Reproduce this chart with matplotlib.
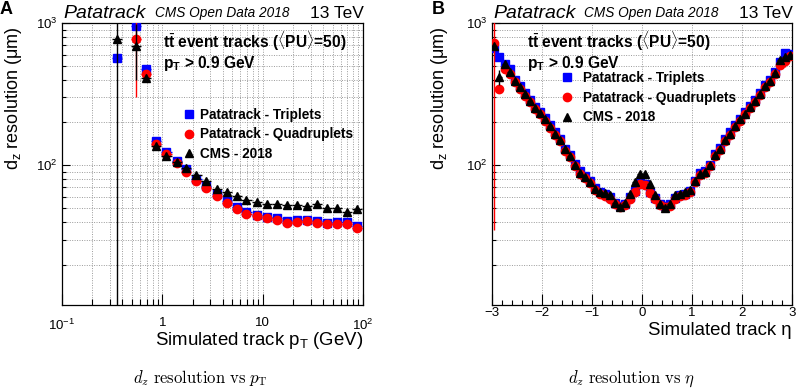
import numpy as np
import matplotlib
matplotlib.use("Agg")
import matplotlib.pyplot as plt
from matplotlib.lines import Line2D
from matplotlib.ticker import FixedLocator, FixedFormatter, NullFormatter

plt.rcParams['font.family'] = ['Liberation Sans', 'DejaVu Sans']
plt.rcParams['mathtext.fontset'] = 'custom'
plt.rcParams['mathtext.rm'] = 'Liberation Sans'
plt.rcParams['mathtext.it'] = 'Liberation Sans:italic'
plt.rcParams['mathtext.bf'] = 'Liberation Sans:bold'

# ---------------- data: panel A (vs pT) ----------------
pt_centers = [0.35, 0.55, 0.69, 0.87, 1.1, 1.39, 1.74, 2.19, 2.75, 3.47, 4.37, 5.5,
              6.9, 8.7, 11.0, 13.8, 17.4, 21.9, 27.5, 34.7, 43.7, 55.0, 69.0, 87.0]
pt_triplets = [564, 957, 474, 147, 124, 107, 94, 80, 71, 62.5, 56, 51,
               47, 45, 43.5, 42.5, 40.8, 41, 41.5, 40.5, 39.5, 40, 39.8, 37.5]
pt_quadruplets = [np.nan, 771, 437, 140, 119, 103, 90, 77, 69, 60.5, 54.3, 49.5,
                  45.7, 43.8, 42.2, 41.5, 39.5, 39.9, 40.6, 39.5, 38.4, 38.8, 38.8, 36.4]
pt_cms = [771, 692, 412, 137, 117, 105, 95, 85, 77, 68.5, 64.3, 60.8,
          56.8, 55.2, 53.7, 53.1, 52.2, 52.2, 51.6, 53.7, 50.3, 50.3, 46.9, 49.5]
pt_triplets_err = [20, 30, 10, 3, 2, 2, 1.5, 1, 1, 1, 1, 1,
                   1, 1, 1, 1, 1, 1, 1, 1, 1, 1, 1, 1.5]
pt_quadruplets_err = [0, 471, 10, 3, 2, 2, 1.5, 1, 1, 1, 1, 1,
                      1, 1, 1, 1, 1, 1, 1, 1, 1, 1, 1, 1.5]
pt_cms_err = [800, 295, 12, 3, 2, 2, 1.5, 1, 1, 1, 1, 1,
              1, 1, 1, 1, 1, 1, 1, 1, 1, 1, 1.5, 2]

# ---------------- data: panel B (vs eta) ----------------
eta_centers = [-2.95, -2.85, -2.75, -2.65, -2.55, -2.45, -2.35, -2.25, -2.15, -2.05,
               -1.95, -1.85, -1.75, -1.65, -1.55, -1.45, -1.35, -1.25, -1.15, -1.05,
               -0.95, -0.85, -0.75, -0.65, -0.55, -0.45, -0.35, -0.25, -0.15, -0.05,
               0.05, 0.15, 0.25, 0.35, 0.45, 0.55, 0.65, 0.75, 0.85, 0.95,
               1.05, 1.15, 1.25, 1.35, 1.45, 1.55, 1.65, 1.75, 1.85, 1.95,
               2.05, 2.15, 2.25, 2.35, 2.45, 2.55, 2.65, 2.75, 2.85, 2.95]
eta_triplets = [664, 580, 512, 472, 400, 358, 320, 287, 257, 238,
                214, 191, 170, 153, 131, 118, 102, 90.5, 84.5, 78,
                69, 64.5, 62.5, 59.5, 54.5, 52, 53.5, 59.5, 66, 75.5,
                74, 65, 58.5, 53.5, 52, 53, 58.5, 61.5, 63, 66,
                78, 88, 91, 101, 119, 132, 152, 170, 191, 213,
                235, 259, 287, 320, 366, 400, 455, 533, 618, 605]
eta_quadruplets = [720, 343, 474, 438, 385, 345, 308, 277, 248, 230,
                   206, 184, 164, 147, 126, 114, 98, 87, 81, 75,
                   66.5, 62.5, 61, 58, 53, 51, 52.5, 58, 65, 74,
                   72.5, 64, 57.5, 52.5, 51, 52, 57.5, 60.5, 62, 65,
                   76, 85.5, 88.5, 98.5, 116, 128, 147, 164, 185, 206,
                   228, 251, 278, 310, 354, 387, 440, 506, 543, 590]
eta_cms = [690, 415, 512, 455, 393, 352, 315, 282, 253, 234,
           210, 188, 167, 150, 129, 116, 100, 88.7, 82.7, 76.3,
           67.8, 64.5, 63.5, 61.5, 54.5, 50.8, 54.6, 63, 76.3, 87,
           87, 74.3, 62, 53.7, 50, 53.7, 61.5, 63, 65, 66.7,
           77, 86.5, 89.8, 100, 117.5, 130, 150, 167, 188, 210,
           231, 255, 282, 315, 360, 393, 447, 550, 580, 600]
eta_quadruplets_err = [685, 20, 8, 6, 5, 4, 3, 3, 2, 2,
                       2, 2, 1.5, 1.5, 1, 1, 1, 1, 1, 1,
                       1, 1, 1, 1, 1, 1, 1, 1, 1, 1,
                       1, 1, 1, 1, 1, 1, 1, 1, 1, 1,
                       1, 1, 1, 1, 1, 1, 1.5, 1.5, 2, 2,
                       2, 2, 3, 3, 4, 5, 6, 10, 50, 20]
eta_cms_err = [20, 50, 8, 6, 5, 4, 3, 3, 2, 2,
               2, 2, 1.5, 1.5, 1, 1, 1, 1, 1, 1,
               1, 1, 1, 1, 1, 1, 1, 1, 1, 1,
               1, 1, 1, 1, 1, 1, 1, 1, 1, 1,
               1, 1, 1, 1, 1, 1, 1.5, 1.5, 2, 2,
               2, 2, 3, 3, 4, 5, 6, 25, 20, 20]
eta_triplets_err = [10, 10, 8, 6, 5, 4, 3, 3, 2, 2,
                    2, 2, 1.5, 1.5, 1, 1, 1, 1, 1, 1,
                    1, 1, 1, 1, 1, 1, 1, 1, 1, 1,
                    1, 1, 1, 1, 1, 1, 1, 1, 1, 1,
                    1, 1, 1, 1, 1, 1, 1.5, 1.5, 2, 2,
                    2, 2, 3, 3, 4, 5, 6, 10, 15, 15]

labels = ["Patatrack - Triplets", "Patatrack - Quadruplets", "CMS - 2018"]
colors = ["#0000ff", "#ff0000", "#000000"]
markers = ["s", "o", "^"]
msizes = [5.6, 6.0, 5.4]

W, H = 796, 389
fig = plt.figure(figsize=(W / 100, H / 100), dpi=100)


def fx(px):
    return px / W


def fy(py):
    return 1 - py / H


axA = fig.add_axes([fx(62), fy(305), (363 - 62) / W, (305 - 23) / H])
axB = fig.add_axes([fx(492), fy(305), (792 - 492) / W, (305 - 23) / H])

# ---- panel A series ----
ptc = np.array(pt_centers)
pt_xlo = ptc - ptc * 10 ** -0.05
pt_xhi = ptc * 10 ** 0.05 - ptc
for vals, errs, c, m, ms, z in zip([pt_triplets, pt_quadruplets, pt_cms],
                                    [pt_triplets_err, pt_quadruplets_err, pt_cms_err],
                                    colors, markers, msizes, [3, 4, 5]):
    axA.errorbar(ptc, vals, xerr=[pt_xlo, pt_xhi], yerr=errs, fmt=m, color=c,
                 ms=ms, mec=c, mfc=c, elinewidth=1.0, capsize=0, zorder=z)

# ---- panel B series ----
etc = np.array(eta_centers)
for vals, errs, c, m, ms, z in zip([eta_triplets, eta_quadruplets, eta_cms],
                                    [eta_triplets_err, eta_quadruplets_err, eta_cms_err],
                                    colors, markers, msizes, [3, 4, 5]):
    axB.errorbar(etc, vals, xerr=0.05, yerr=errs, fmt=m, color=c,
                 ms=ms, mec=c, mfc=c, elinewidth=1.0, capsize=0, zorder=z)

grid_kw = dict(linestyle=(0, (1, 1.5)), color="#9a9a9a", linewidth=0.7)
ymajor = [100, 1000]
yminor = [20, 30, 40, 50, 60, 70, 80, 90, 200, 300, 400, 500, 600, 700, 800, 900]

for ax in (axA, axB):
    ax.set_yscale('log', nonpositive='clip')
    ax.set_ylim(10.4, 1000)
    ax.yaxis.set_major_locator(FixedLocator(ymajor))
    ax.yaxis.set_major_formatter(FixedFormatter([r"$10^{2}$", r"$10^{3}$"]))
    ax.yaxis.set_minor_locator(FixedLocator(yminor))
    ax.yaxis.set_minor_formatter(NullFormatter())
    ax.tick_params(axis='y', which='major', direction='in', length=6, width=0.8,
                   labelsize=9.5, pad=3.5)
    ax.tick_params(axis='y', which='minor', direction='in', length=3, width=0.8)
    ax.yaxis.grid(True, which='both', **grid_kw)
    for s in ax.spines.values():
        s.set_linewidth(0.9)
    ax.set_axisbelow(True)

# panel A x axis
axA.set_xscale('log')
axA.set_xlim(0.1, 100)
axA.xaxis.set_major_locator(FixedLocator([0.1, 1, 10, 100]))
axA.xaxis.set_major_formatter(FixedFormatter([r"$10^{-1}$", "1", "10", r"$10^{2}$"]))
axA.xaxis.set_minor_locator(FixedLocator([d * m for d in (0.1, 1, 10) for m in range(2, 10)]))
axA.xaxis.set_minor_formatter(NullFormatter())
axA.tick_params(axis='x', which='major', direction='in', length=8, width=0.8,
                labelsize=9.5, pad=9)
axA.tick_params(axis='x', which='minor', direction='in', length=4, width=0.8)
axA.xaxis.grid(True, which='both', **grid_kw)

# panel B x axis
axB.set_xlim(-3, 3)
axB.xaxis.set_major_locator(FixedLocator([-3, -2, -1, 0, 1, 2, 3]))
axB.xaxis.set_minor_locator(FixedLocator(list(np.arange(-2.8, 3.0, 0.2))))
axB.tick_params(axis='x', which='major', direction='in', length=8, width=0.8,
                labelsize=9.5, pad=1.5)
axB.tick_params(axis='x', which='minor', direction='in', length=3.5, width=0.8)
axB.xaxis.grid(True, which='major', **grid_kw)

# ---- legends ----
handles = [Line2D([], [], marker=m, color=c, ls='none', ms=ms)
           for m, c, ms in zip(markers, colors, msizes)]
axA.legend(handles, labels, loc='upper left', bbox_to_anchor=(0.402, 0.7),
           frameon=False, handlelength=0.9, handletextpad=0.35, borderpad=0,
           borderaxespad=0, labelspacing=0.42, prop=dict(weight='bold', size=9.8))
axB.legend(handles, labels, loc='upper left', bbox_to_anchor=(0.228, 0.83),
           frameon=False, handlelength=0.9, handletextpad=0.75, borderpad=0,
           borderaxespad=0, labelspacing=0.42, prop=dict(weight='bold', size=9.8))

# ---- texts ----
head1 = r"t$\bar{\mathbf{t}}$ event tracks ($\langle$PU$\rangle$=50)"
head2 = r"$\mathbf{p}_{\mathbf{T}}$ > 0.9 GeV"
for x0 in (163, 527):
    fig.text(fx(x0), fy(48), head1, fontsize=11.2, fontweight='bold', va='baseline')
    fig.text(fx(x0), fy(68), head2, fontsize=11.2, fontweight='bold', va='baseline')

for xp, xc, xt in ((63, 155, 310), (493, 584, 739)):
    fig.text(fx(xp), fy(17.5), "Patatrack", fontsize=14, style='italic', va='baseline')
    fig.text(fx(xc), fy(17.5), "CMS Open Data 2018", fontsize=9.8, style='italic', va='baseline')
    fig.text(fx(xt), fy(17.5), "13 TeV", fontsize=12.5, va='baseline')

fig.text(fx(0), fy(14), "A", fontsize=13, fontweight='bold', va='baseline')
fig.text(fx(432), fy(14), "B", fontsize=13, fontweight='bold', va='baseline')

ylab = r"d$_{\mathrm{z}}$ resolution (μm)"
fig.text(fx(13), fy(27), ylab, rotation=90, ha='center', va='top', fontsize=13)
fig.text(fx(440), fy(27), ylab, rotation=90, ha='center', va='top', fontsize=13)

fig.text(fx(363), fy(345), r"Simulated track p$_{\mathrm{T}}$ (GeV)", ha='right',
         va='baseline', fontsize=13.4)
fig.text(fx(792), fy(335), "Simulated track η", ha='right', va='baseline', fontsize=13.4)

fig.text(fx(200), fy(383), r"$d_z\ \mathrm{resolution\ vs}\ p_\mathrm{T}$", ha='center',
         va='baseline', fontsize=12, math_fontfamily='cm')
fig.text(fx(631), fy(383), r"$d_z\ \mathrm{resolution\ vs}\ \eta$", ha='center',
         va='baseline', fontsize=12, math_fontfamily='cm')

fig.savefig("out.png", dpi=100)
